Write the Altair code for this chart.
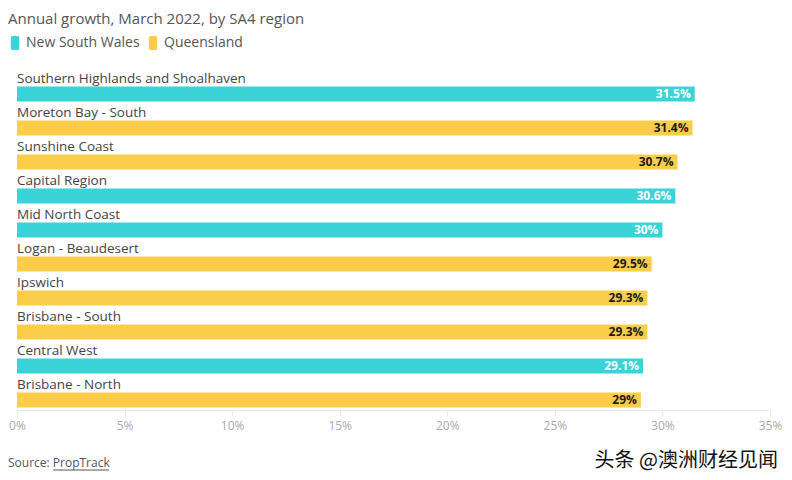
import altair as alt
import pandas as pd

regions = ["Southern Highlands and Shoalhaven", "Moreton Bay - South", "Sunshine Coast",
           "Capital Region", "Mid North Coast", "Logan - Beaudesert", "Ipswich",
           "Brisbane - South", "Central West", "Brisbane - North"]
states = ["New South Wales", "Queensland", "Queensland", "New South Wales", "New South Wales",
          "Queensland", "Queensland", "Queensland", "New South Wales", "Queensland"]
growth = [31.5, 31.4, 30.7, 30.6, 30.0, 29.5, 29.3, 29.3, 29.1, 29.0]
x_ticks = [0, 5, 10, 15, 20, 25, 30, 35]

df = pd.DataFrame({"region": regions, "state": states, "growth": growth})
df["label"] = [f"{v:g}%" for v in growth]

FONT = "Open Sans"
TEAL = "#3ad3d7"
YELLOW = "#fccd4a"

y_enc = alt.Y("region:N", sort=regions, axis=None,
              scale=alt.Scale(paddingInner=0, paddingOuter=0))
x_scale = alt.Scale(domain=[0, 35], nice=False)

rounded = ("M-0.3,-1 H0.3 A0.3,0.3 0 0 1 0.6,-0.7 V0.7 A0.3,0.3 0 0 1 0.3,1 "
           "H-0.3 A0.3,0.3 0 0 1 -0.6,0.7 V-0.7 A0.3,0.3 0 0 1 -0.3,-1 Z")

bars = alt.Chart(df).mark_bar(size=15, yOffset=7).encode(
    x=alt.X("growth:Q", scale=x_scale, title=None,
            axis=alt.Axis(values=x_ticks, labelExpr="datum.value + '%'", grid=False,
                          domainColor="#e8e8e8", tickColor="#e8e8e8", tickSize=6,
                          labelColor="#aaaaaa", labelFont=FONT, labelFontSize=12,
                          labelPadding=4, labelFlush=False)),
    y=y_enc,
    color=alt.Color("state:N", scale=alt.Scale(domain=["New South Wales", "Queensland"],
                                               range=[TEAL, YELLOW]),
                    legend=alt.Legend(title=None, orient="none", legendX=-9, legendY=-34,
                                      direction="horizontal", symbolType=rounded,
                                      symbolSize=196, symbolOpacity=1, symbolStrokeWidth=0,
                                      labelFont=FONT,
                                      labelFontSize=14, labelColor="#555555",
                                      labelOffset=4, columnPadding=6)),
)

names = alt.Chart(df).mark_text(align="left", baseline="alphabetic", dy=-4,
                                font=FONT, fontSize=13.5, color="#444444").encode(
    x=alt.value(0), y=y_enc, text="region:N")

values = alt.Chart(df).mark_text(align="right", baseline="middle", dx=-4, yOffset=7,
                                 font=FONT, fontSize=12, fontWeight="bold").encode(
    x=alt.X("growth:Q", scale=x_scale), y=y_enc, text="label:N",
    color=alt.Color("state:N", scale=alt.Scale(domain=["New South Wales", "Queensland"],
                                               range=["#ffffff", "#1a1a1a"]), legend=None))

ann = pd.DataFrame({"t": [0]})
title = alt.Chart(ann).mark_text(align="left", baseline="alphabetic", font=FONT,
                                 fontSize=15, color="#555555").encode(
    x=alt.value(-9), y=alt.value(-46), text=alt.value("Annual growth, March 2022, by SA4 region"))
source = alt.Chart(ann).mark_text(align="left", baseline="alphabetic", font=FONT,
                                  fontSize=12, color="#555555").encode(
    x=alt.value(-9), y=alt.value(397), text=alt.value("Source: PropTrack"))
underline = alt.Chart(ann).mark_rule(color="#555555", strokeWidth=1).encode(
    x=alt.value(36), x2=alt.value(92), y=alt.value(400))
watermark = alt.Chart(ann).mark_text(align="right", baseline="alphabetic",
                                     font="Noto Sans CJK SC", fontSize=20, color="#111111").encode(
    x=alt.value(761), y=alt.value(397), text=alt.value("头条 @澳洲财经见闻"))

chart = alt.layer(bars, names, values, title, source, underline, watermark).resolve_scale(
    color="independent").properties(
    width=753, height=340,
    background="white",
    autosize=alt.AutoSizeParams(type="none"),
    padding={"left": 9, "top": 62, "right": 14, "bottom": 62},
).configure_view(strokeWidth=0, stroke="transparent")

chart.save("out.html", embed_options={"renderer": "svg", "actions": False})
